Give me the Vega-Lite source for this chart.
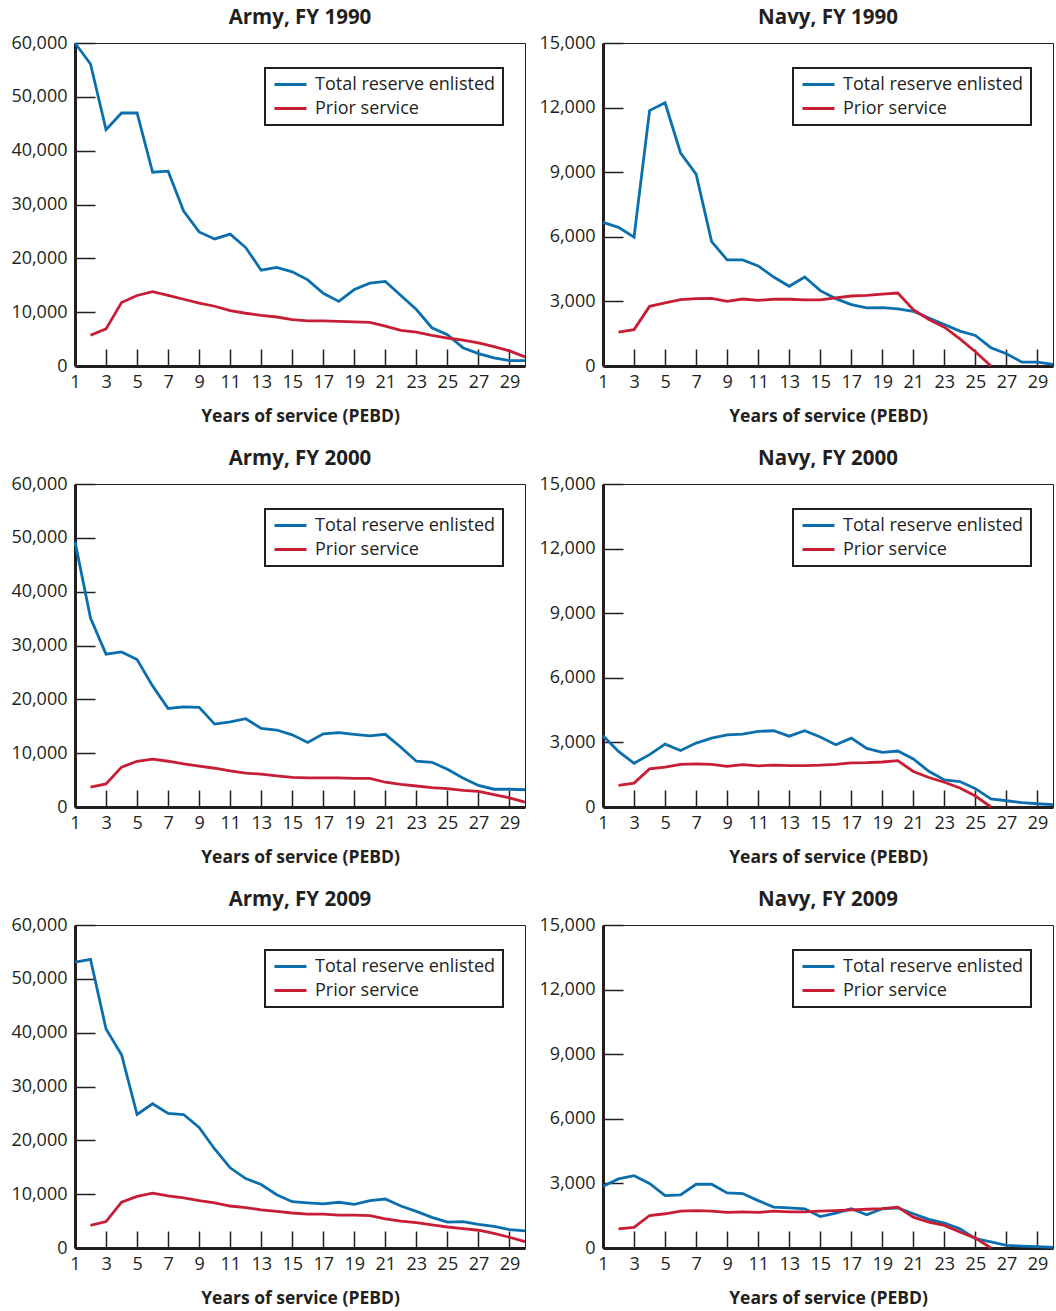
{
  "$schema": "https://vega.github.io/schema/vega-lite/v6.json",
  "padding": {"left": 10, "top": 7, "right": 0, "bottom": 0},
  "columns": 2,
  "spacing": {"row": 23, "column": 6},
  "config": {
    "font": "Open Sans",
    "view": {"stroke": "#231f20", "strokeWidth": 1},
    "title": {"fontSize": 20.5, "fontWeight": "bold", "color": "#231f20", "anchor": "middle", "offset": 6},
    "axis": {"grid": false, "domainColor": "#231f20", "domainWidth": 3, "tickColor": "#231f20", "tickWidth": 1.5, "labelFontSize": 18, "labelColor": "#231f20", "titleFontSize": 17.5, "titleFontWeight": "bold", "titleColor": "#231f20", "zindex": 1},
    "axisX": {"tickSize": -17, "labelPadding": 24, "titlePadding": 16, "labelFlush": false},
    "axisY": {"tickSize": -20, "labelPadding": 28},
    "legend": {"orient": "none", "legendX": 190, "legendY": 25, "strokeColor": "#231f20", "strokeWidth": 2, "fillColor": "white", "padding": 7, "symbolType": "M-2,0H2", "symbolSize": 256, "symbolOffset": 9, "symbolStrokeWidth": 3, "labelFontSize": 18, "labelColor": "#231f20", "labelOffset": 15, "labelLimit": 400, "rowPadding": 5, "title": null}
  },
  "datasets": {
    "a90": [{"y":1,"t":60000},{"y":2,"t":56100,"r":5700},{"y":3,"t":43900,"r":6900},{"y":4,"t":47000,"r":11800},{"y":5,"t":47000,"r":13100},{"y":6,"t":36000,"r":13800},{"y":7,"t":36200,"r":13100},{"y":8,"t":28800,"r":12400},{"y":9,"t":24900,"r":11700},{"y":10,"t":23600,"r":11100},{"y":11,"t":24500,"r":10300},{"y":12,"t":22000,"r":9800},{"y":13,"t":17800,"r":9400},{"y":14,"t":18300,"r":9100},{"y":15,"t":17500,"r":8600},{"y":16,"t":16000,"r":8400},{"y":17,"t":13500,"r":8400},{"y":18,"t":12000,"r":8300},{"y":19,"t":14200,"r":8200},{"y":20,"t":15400,"r":8100},{"y":21,"t":15700,"r":7400},{"y":22,"t":13100,"r":6600},{"y":23,"t":10500,"r":6300},{"y":24,"t":7100,"r":5700},{"y":25,"t":5800,"r":5200},{"y":26,"t":3400,"r":4800},{"y":27,"t":2300,"r":4300},{"y":28,"t":1500,"r":3600},{"y":29,"t":1000,"r":2800},{"y":30,"t":1000,"r":1700}],
    "n90": [{"y":1,"t":6670},{"y":2,"t":6440,"r":1570},{"y":3,"t":5980,"r":1690},{"y":4,"t":11860,"r":2770},{"y":5,"t":12220,"r":2930},{"y":6,"t":9890,"r":3080},{"y":7,"t":8910,"r":3130},{"y":8,"t":5780,"r":3140},{"y":9,"t":4930,"r":3000},{"y":10,"t":4930,"r":3110},{"y":11,"t":4650,"r":3050},{"y":12,"t":4130,"r":3100},{"y":13,"t":3700,"r":3100},{"y":14,"t":4130,"r":3070},{"y":15,"t":3500,"r":3070},{"y":16,"t":3130,"r":3160},{"y":17,"t":2850,"r":3250},{"y":18,"t":2700,"r":3280},{"y":19,"t":2710,"r":3340},{"y":20,"t":2650,"r":3390},{"y":21,"t":2540,"r":2620},{"y":22,"t":2230,"r":2160},{"y":23,"t":1930,"r":1800},{"y":24,"t":1620,"r":1260},{"y":25,"t":1420,"r":660},{"y":26,"t":850,"r":0},{"y":27,"t":570},{"y":28,"t":180},{"y":29,"t":180},{"y":30,"t":80}],
    "a00": [{"y":1,"t":49300},{"y":2,"t":35100,"r":3700},{"y":3,"t":28400,"r":4300},{"y":4,"t":28800,"r":7400},{"y":5,"t":27400,"r":8500},{"y":6,"t":22500,"r":8900},{"y":7,"t":18300,"r":8500},{"y":8,"t":18600,"r":8000},{"y":9,"t":18500,"r":7600},{"y":10,"t":15400,"r":7200},{"y":11,"t":15800,"r":6700},{"y":12,"t":16400,"r":6300},{"y":13,"t":14600,"r":6100},{"y":14,"t":14300,"r":5800},{"y":15,"t":13400,"r":5500},{"y":16,"t":12000,"r":5400},{"y":17,"t":13600,"r":5400},{"y":18,"t":13800,"r":5400},{"y":19,"t":13500,"r":5300},{"y":20,"t":13200,"r":5300},{"y":21,"t":13500,"r":4600},{"y":22,"t":11100,"r":4200},{"y":23,"t":8500,"r":3900},{"y":24,"t":8300,"r":3600},{"y":25,"t":7000,"r":3400},{"y":26,"t":5400,"r":3100},{"y":27,"t":4000,"r":2900},{"y":28,"t":3300,"r":2300},{"y":29,"t":3300,"r":1700},{"y":30,"t":3200,"r":900}],
    "n00": [{"y":1,"t":3310},{"y":2,"t":2580,"r":1000},{"y":3,"t":2030,"r":1110},{"y":4,"t":2430,"r":1770},{"y":5,"t":2920,"r":1850},{"y":6,"t":2620,"r":1980},{"y":7,"t":2970,"r":2000},{"y":8,"t":3200,"r":1980},{"y":9,"t":3350,"r":1890},{"y":10,"t":3380,"r":1970},{"y":11,"t":3510,"r":1910},{"y":12,"t":3540,"r":1940},{"y":13,"t":3290,"r":1920},{"y":14,"t":3540,"r":1920},{"y":15,"t":3250,"r":1940},{"y":16,"t":2890,"r":1980},{"y":17,"t":3200,"r":2050},{"y":18,"t":2720,"r":2060},{"y":19,"t":2540,"r":2090},{"y":20,"t":2600,"r":2150},{"y":21,"t":2230,"r":1650},{"y":22,"t":1660,"r":1370},{"y":23,"t":1260,"r":1150},{"y":24,"t":1180,"r":880},{"y":25,"t":850,"r":510},{"y":26,"t":380,"r":0},{"y":27,"t":290},{"y":28,"t":200},{"y":29,"t":150},{"y":30,"t":110}],
    "a09": [{"y":1,"t":53100},{"y":2,"t":53600,"r":4200},{"y":3,"t":40700,"r":4900},{"y":4,"t":35900,"r":8500},{"y":5,"t":24800,"r":9600},{"y":6,"t":26800,"r":10200},{"y":7,"t":25000,"r":9700},{"y":8,"t":24800,"r":9300},{"y":9,"t":22400,"r":8800},{"y":10,"t":18400,"r":8400},{"y":11,"t":14900,"r":7800},{"y":12,"t":12900,"r":7500},{"y":13,"t":11800,"r":7100},{"y":14,"t":9900,"r":6800},{"y":15,"t":8600,"r":6500},{"y":16,"t":8400,"r":6300},{"y":17,"t":8200,"r":6300},{"y":18,"t":8500,"r":6100},{"y":19,"t":8100,"r":6100},{"y":20,"t":8800,"r":6000},{"y":21,"t":9100,"r":5400},{"y":22,"t":7800,"r":5000},{"y":23,"t":6800,"r":4700},{"y":24,"t":5700,"r":4300},{"y":25,"t":4800,"r":3900},{"y":26,"t":4900,"r":3600},{"y":27,"t":4400,"r":3300},{"y":28,"t":4000,"r":2700},{"y":29,"t":3400,"r":2000},{"y":30,"t":3200,"r":1200}],
    "n09": [{"y":1,"t":2870},{"y":2,"t":3210,"r":890},{"y":3,"t":3360,"r":960},{"y":4,"t":3000,"r":1510},{"y":5,"t":2430,"r":1590},{"y":6,"t":2470,"r":1710},{"y":7,"t":2960,"r":1740},{"y":8,"t":2960,"r":1710},{"y":9,"t":2560,"r":1650},{"y":10,"t":2530,"r":1680},{"y":11,"t":2200,"r":1650},{"y":12,"t":1900,"r":1710},{"y":13,"t":1860,"r":1680},{"y":14,"t":1820,"r":1680},{"y":15,"t":1460,"r":1710},{"y":16,"t":1620,"r":1740},{"y":17,"t":1820,"r":1770},{"y":18,"t":1540,"r":1800},{"y":19,"t":1820,"r":1830},{"y":20,"t":1860,"r":1900},{"y":21,"t":1590,"r":1430},{"y":22,"t":1330,"r":1200},{"y":23,"t":1160,"r":1050},{"y":24,"t":890,"r":740},{"y":25,"t":430,"r":460},{"y":26,"t":280,"r":0},{"y":27,"t":120},{"y":28,"t":90},{"y":29,"t":60},{"y":30,"t":30}]
  },
  "concat": [
    {
      "title": "Army, FY 1990", "width": 450, "height": 323,
      "data": {"name": "a90"},
      "transform": [{"fold": ["t", "r"], "as": ["s", "v"]}],
      "mark": {"type": "line", "strokeWidth": 2.8},
      "encoding": {
        "x": {"field": "y", "type": "quantitative", "scale": {"domain": [1, 30], "nice": false, "zero": false}, "axis": {"values": [1,3,5,7,9,11,13,15,17,19,21,23,25,27,29], "title": "Years of service (PEBD)"}},
        "y": {"field": "v", "type": "quantitative", "scale": {"domain": [0, 60000], "nice": false}, "axis": {"values": [0,10000,20000,30000,40000,50000,60000], "format": ",d", "title": null}},
        "color": {"field": "s", "type": "nominal", "scale": {"domain": ["t", "r"], "range": ["#0b6fae", "#c81e35"]}, "legend": {"labelExpr": "datum.label == 't' ? 'Total reserve enlisted' : 'Prior service'"}}
      }
    },
    {
      "title": "Navy, FY 1990", "width": 450, "height": 323,
      "data": {"name": "n90"},
      "transform": [{"fold": ["t", "r"], "as": ["s", "v"]}],
      "mark": {"type": "line", "strokeWidth": 2.8},
      "encoding": {
        "x": {"field": "y", "type": "quantitative", "scale": {"domain": [1, 30], "nice": false, "zero": false}, "axis": {"values": [1,3,5,7,9,11,13,15,17,19,21,23,25,27,29], "title": "Years of service (PEBD)"}},
        "y": {"field": "v", "type": "quantitative", "scale": {"domain": [0, 15000], "nice": false}, "axis": {"values": [0,3000,6000,9000,12000,15000], "format": ",d", "title": null}},
        "color": {"field": "s", "type": "nominal", "scale": {"domain": ["t", "r"], "range": ["#0b6fae", "#c81e35"]}, "legend": {"labelExpr": "datum.label == 't' ? 'Total reserve enlisted' : 'Prior service'"}}
      }
    },
    {
      "title": "Army, FY 2000", "width": 450, "height": 323,
      "data": {"name": "a00"},
      "transform": [{"fold": ["t", "r"], "as": ["s", "v"]}],
      "mark": {"type": "line", "strokeWidth": 2.8},
      "encoding": {
        "x": {"field": "y", "type": "quantitative", "scale": {"domain": [1, 30], "nice": false, "zero": false}, "axis": {"values": [1,3,5,7,9,11,13,15,17,19,21,23,25,27,29], "title": "Years of service (PEBD)"}},
        "y": {"field": "v", "type": "quantitative", "scale": {"domain": [0, 60000], "nice": false}, "axis": {"values": [0,10000,20000,30000,40000,50000,60000], "format": ",d", "title": null}},
        "color": {"field": "s", "type": "nominal", "scale": {"domain": ["t", "r"], "range": ["#0b6fae", "#c81e35"]}, "legend": {"labelExpr": "datum.label == 't' ? 'Total reserve enlisted' : 'Prior service'"}}
      }
    },
    {
      "title": "Navy, FY 2000", "width": 450, "height": 323,
      "data": {"name": "n00"},
      "transform": [{"fold": ["t", "r"], "as": ["s", "v"]}],
      "mark": {"type": "line", "strokeWidth": 2.8},
      "encoding": {
        "x": {"field": "y", "type": "quantitative", "scale": {"domain": [1, 30], "nice": false, "zero": false}, "axis": {"values": [1,3,5,7,9,11,13,15,17,19,21,23,25,27,29], "title": "Years of service (PEBD)"}},
        "y": {"field": "v", "type": "quantitative", "scale": {"domain": [0, 15000], "nice": false}, "axis": {"values": [0,3000,6000,9000,12000,15000], "format": ",d", "title": null}},
        "color": {"field": "s", "type": "nominal", "scale": {"domain": ["t", "r"], "range": ["#0b6fae", "#c81e35"]}, "legend": {"labelExpr": "datum.label == 't' ? 'Total reserve enlisted' : 'Prior service'"}}
      }
    },
    {
      "title": "Army, FY 2009", "width": 450, "height": 323,
      "data": {"name": "a09"},
      "transform": [{"fold": ["t", "r"], "as": ["s", "v"]}],
      "mark": {"type": "line", "strokeWidth": 2.8},
      "encoding": {
        "x": {"field": "y", "type": "quantitative", "scale": {"domain": [1, 30], "nice": false, "zero": false}, "axis": {"values": [1,3,5,7,9,11,13,15,17,19,21,23,25,27,29], "title": "Years of service (PEBD)"}},
        "y": {"field": "v", "type": "quantitative", "scale": {"domain": [0, 60000], "nice": false}, "axis": {"values": [0,10000,20000,30000,40000,50000,60000], "format": ",d", "title": null}},
        "color": {"field": "s", "type": "nominal", "scale": {"domain": ["t", "r"], "range": ["#0b6fae", "#c81e35"]}, "legend": {"labelExpr": "datum.label == 't' ? 'Total reserve enlisted' : 'Prior service'"}}
      }
    },
    {
      "title": "Navy, FY 2009", "width": 450, "height": 323,
      "data": {"name": "n09"},
      "transform": [{"fold": ["t", "r"], "as": ["s", "v"]}],
      "mark": {"type": "line", "strokeWidth": 2.8},
      "encoding": {
        "x": {"field": "y", "type": "quantitative", "scale": {"domain": [1, 30], "nice": false, "zero": false}, "axis": {"values": [1,3,5,7,9,11,13,15,17,19,21,23,25,27,29], "title": "Years of service (PEBD)"}},
        "y": {"field": "v", "type": "quantitative", "scale": {"domain": [0, 15000], "nice": false}, "axis": {"values": [0,3000,6000,9000,12000,15000], "format": ",d", "title": null}},
        "color": {"field": "s", "type": "nominal", "scale": {"domain": ["t", "r"], "range": ["#0b6fae", "#c81e35"]}, "legend": {"labelExpr": "datum.label == 't' ? 'Total reserve enlisted' : 'Prior service'"}}
      }
    }
  ],
  "resolve": {"scale": {"color": "independent", "y": "independent", "x": "independent"}}
}
